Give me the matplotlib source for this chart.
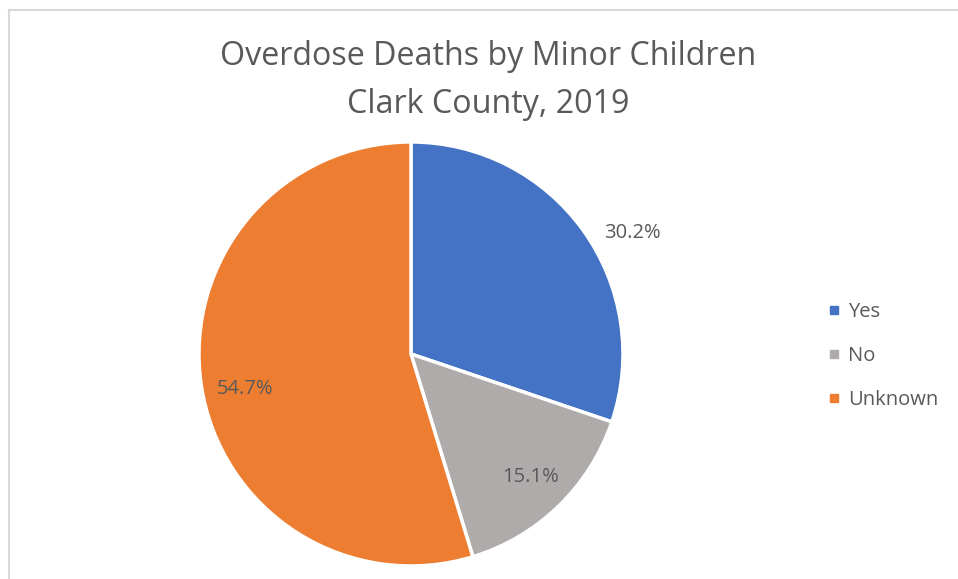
import numpy as np
import matplotlib
matplotlib.use('Agg')
import matplotlib.pyplot as plt
from matplotlib.lines import Line2D

# deaths by whether the person had minor children
categories = ['Yes', 'No', 'Unknown']
counts = [16, 8, 29]
colors = ['#4472C4', '#AFABAB', '#ED7D31']
title = 'Overdose Deaths by Minor Children\nClark County, 2019'

# label placement per wedge (radius as fraction of pie radius, angle nudge in degrees)
lab_dist = [1.19, 0.81, 0.80]
lab_nudge = [-7, 0, 3.5]

txt = '#595959'
plt.rcParams['font.family'] = ['Open Sans', 'DejaVu Sans']

fig = plt.figure(figsize=(9.58, 5.79), dpi=100)

# frame on the left and top edge
fig.add_artist(Line2D([8.5/958, 8.5/958], [0, 1 - 9.5/579], color='#D9D9D9', lw=1.5))
fig.add_artist(Line2D([8.5/958, 1], [1 - 9.5/579, 1 - 9.5/579], color='#D9D9D9', lw=1.5))

ax = fig.add_axes([0.2077, 0.0225, 0.4426, 0.7323])
wedges, _ = ax.pie(counts, colors=colors, startangle=90, counterclock=False,
                   wedgeprops=dict(edgecolor='white', linewidth=2.5))
ax.set_xlim(-1, 1)
ax.set_ylim(-1, 1)
ax.set_aspect('equal')

total = sum(counts)
for w, c, d, nd in zip(wedges, counts, lab_dist, lab_nudge):
    ang = np.deg2rad((w.theta1 + w.theta2) / 2 + nd)
    ax.text(d * np.cos(ang), d * np.sin(ang), '%.1f%%' % (100 * c / total),
            ha='center', va='center', fontsize=14.5, color=txt)

fig.text(0.51, 0.861, title, ha='center', va='center', fontsize=23.2,
         color=txt, linespacing=1.62)

handles = [Line2D([], [], marker='s', ls='', color=col, markersize=6) for col in colors]
fig.legend(handles, categories, loc='center left', bbox_to_anchor=(0.843, 0.385),
           frameon=False, fontsize=14.5, labelcolor=txt, handletextpad=0.3,
           labelspacing=1.2, handlelength=0.8)

fig.savefig('out.png', dpi=100)
